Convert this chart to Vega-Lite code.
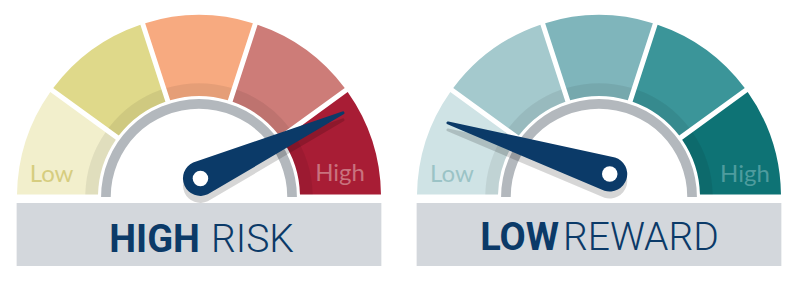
{
  "$schema": "https://vega.github.io/schema/vega-lite/v6.json",
  "padding": 0,
  "autosize": {"type": "pad"},
  "background": "white",
  "spacing": 0,
  "config": {"view": {"stroke": null}},
  "data": {
    "values": [
      {"kind": "band", "gauge": "risk", "key": "risk 1", "from": 0, "to": 36},
      {"kind": "band", "gauge": "risk", "key": "risk 2", "from": 36, "to": 72},
      {"kind": "band", "gauge": "risk", "key": "risk 3", "from": 72, "to": 108},
      {"kind": "band", "gauge": "risk", "key": "risk 4", "from": 108, "to": 144},
      {"kind": "band", "gauge": "risk", "key": "risk 5", "from": 144, "to": 180},
      {"kind": "band", "gauge": "reward", "key": "reward 1", "from": 0, "to": 36},
      {"kind": "band", "gauge": "reward", "key": "reward 2", "from": 36, "to": 72},
      {"kind": "band", "gauge": "reward", "key": "reward 3", "from": 72, "to": 108},
      {"kind": "band", "gauge": "reward", "key": "reward 4", "from": 108, "to": 144},
      {"kind": "band", "gauge": "reward", "key": "reward 5", "from": 144, "to": 180},
      {"kind": "frame", "gauge": "risk"},
      {"kind": "frame", "gauge": "reward"},
      {"kind": "scale", "gauge": "risk", "key": "risk low", "text": "Low", "x": -0.81, "y": 0.085},
      {"kind": "scale", "gauge": "risk", "key": "risk high", "text": "High", "x": 0.775, "y": 0.088},
      {"kind": "scale", "gauge": "reward", "key": "reward low", "text": "Low", "x": -0.808, "y": 0.08},
      {"kind": "scale", "gauge": "reward", "key": "reward high", "text": "High", "x": 0.802, "y": 0.082},
      {"kind": "needle", "gauge": "risk", "end": "hub", "x": 0.008, "y": 0.102},
      {"kind": "needle", "gauge": "risk", "end": "tip", "x": 0.791, "y": 0.462},
      {"kind": "needle", "gauge": "reward", "end": "hub", "x": 0.059, "y": 0.126},
      {"kind": "needle", "gauge": "reward", "end": "tip", "x": -0.83, "y": 0.407},
      {"kind": "title", "gauge": "risk", "role": "strong", "text": "HIGH", "x": 0.005, "y": -0.302},
      {"kind": "title", "gauge": "risk", "role": "plain", "text": "RISK", "x": 0.066, "y": -0.302},
      {"kind": "title", "gauge": "reward", "role": "strong", "text": "LOW", "x": -0.22, "y": -0.291},
      {"kind": "title", "gauge": "reward", "role": "plain", "text": "REWARD", "x": -0.198, "y": -0.291}
    ]
  },
  "facet": {
    "column": {"field": "gauge", "type": "nominal", "sort": ["risk", "reward"], "header": null}
  },
  "spec": {
    "width": 400,
    "height": 290,
    "layer": [
      {
        "transform": [{"filter": "datum.kind === 'band'"}],
        "mark": {"type": "arc", "padAngle": 0.024},
        "encoding": {
          "x": {"datum": 0, "type": "quantitative", "scale": {"domain": [-1.0934, 1.1044], "nice": false, "zero": false}, "axis": null},
          "y": {"datum": 0, "type": "quantitative", "scale": {"domain": [-0.511, 1.0824], "nice": false, "zero": false}, "axis": null},
          "theta": {"field": "from", "type": "quantitative", "stack": null, "scale": {"domain": [0, 180], "range": [-1.5708, 1.5708]}},
          "theta2": {"field": "to"},
          "radius": {"datum": 1, "type": "quantitative", "scale": {"type": "linear", "domain": [0, 1], "range": [0, 182], "zero": true}},
          "radius2": {"datum": 0.555},
          "color": {
            "field": "key", "type": "nominal", "legend": null,
            "scale": {
              "domain": ["risk 1", "risk 2", "risk 3", "risk 4", "risk 5", "reward 1", "reward 2", "reward 3", "reward 4", "reward 5", "risk low", "risk high", "reward low", "reward high"],
              "range": ["#f2efcc", "#dfd98a", "#f7aa80", "#cd7c78", "#a81d35", "#cfe3e5", "#a4c9cd", "#7fb5bb", "#3b9599", "#0e7375", "#d6cd7f", "#c9727e", "#9bc3c6", "#4e9c9e"]
            }
          }
        }
      },
      {
        "transform": [{"filter": "datum.kind === 'band'"}],
        "mark": {"type": "arc", "padAngle": 0.033, "color": "#000000", "opacity": 0.07},
        "encoding": {
          "x": {"datum": 0, "type": "quantitative"},
          "y": {"datum": 0, "type": "quantitative"},
          "theta": {"field": "from", "type": "quantitative", "stack": null},
          "theta2": {"field": "to"},
          "radius": {"datum": 0.625, "type": "quantitative"},
          "radius2": {"datum": 0.555}
        }
      },
      {
        "transform": [{"filter": "datum.kind === 'frame'"}],
        "mark": {"type": "arc", "color": "#b3b8bd"},
        "encoding": {
          "x": {"datum": 0, "type": "quantitative"},
          "y": {"datum": 0, "type": "quantitative"},
          "theta": {"datum": 0, "type": "quantitative", "stack": null},
          "theta2": {"datum": 180},
          "radius": {"datum": 0.538, "type": "quantitative"},
          "radius2": {"datum": 0.485}
        }
      },
      {
        "transform": [{"filter": "datum.kind === 'frame'"}],
        "mark": {"type": "rect", "color": "#d3d7dc"},
        "encoding": {
          "x": {"datum": -1.002, "type": "quantitative"},
          "x2": {"datum": 1.002},
          "y": {"datum": -0.033, "type": "quantitative"},
          "y2": {"datum": -0.379}
        }
      },
      {
        "transform": [{"filter": "datum.kind === 'scale'"}],
        "mark": {"type": "text", "font": "Lato", "fontSize": 24, "align": "center", "baseline": "alphabetic"},
        "encoding": {
          "x": {"field": "x", "type": "quantitative"},
          "y": {"field": "y", "type": "quantitative"},
          "text": {"field": "text"},
          "color": {"field": "key", "type": "nominal", "legend": null}
        }
      },
      {
        "transform": [{"filter": "datum.kind === 'needle'"}],
        "mark": {"type": "trail", "fill": "#000000", "fillOpacity": 0.16, "yOffset": 7},
        "encoding": {
          "x": {"field": "x", "type": "quantitative"},
          "y": {"field": "y", "type": "quantitative"},
          "size": {"field": "end", "type": "ordinal", "legend": null, "scale": {"type": "ordinal", "domain": ["hub", "tip"], "range": [35, 3]}}
        }
      },
      {
        "transform": [{"filter": "datum.kind === 'needle'"}],
        "mark": {"type": "trail", "fill": "#0b3a68", "fillOpacity": 1},
        "encoding": {
          "x": {"field": "x", "type": "quantitative"},
          "y": {"field": "y", "type": "quantitative"},
          "size": {"field": "end", "type": "ordinal", "legend": null, "scale": {"type": "ordinal", "domain": ["hub", "tip"], "range": [35, 3]}}
        }
      },
      {
        "transform": [{"filter": "datum.kind === 'needle' && datum.end === 'hub'"}],
        "mark": {"type": "point", "shape": "circle", "filled": true, "color": "#ffffff", "opacity": 1, "size": 240},
        "encoding": {
          "x": {"field": "x", "type": "quantitative"},
          "y": {"field": "y", "type": "quantitative"}
        }
      },
      {
        "transform": [{"filter": "datum.kind === 'title' && datum.role === 'strong'"}],
        "mark": {"type": "text", "font": "Roboto", "fontWeight": "bold", "fontSize": 38, "align": "right", "baseline": "alphabetic", "color": "#0b3a68"},
        "encoding": {
          "x": {"field": "x", "type": "quantitative"},
          "y": {"field": "y", "type": "quantitative"},
          "text": {"field": "text"}
        }
      },
      {
        "transform": [{"filter": "datum.kind === 'title' && datum.role === 'plain'"}],
        "mark": {"type": "text", "font": "Roboto", "fontWeight": 300, "fontSize": 39, "align": "left", "baseline": "alphabetic", "color": "#0b3a68"},
        "encoding": {
          "x": {"field": "x", "type": "quantitative"},
          "y": {"field": "y", "type": "quantitative"},
          "text": {"field": "text"}
        }
      }
    ]
  }
}
